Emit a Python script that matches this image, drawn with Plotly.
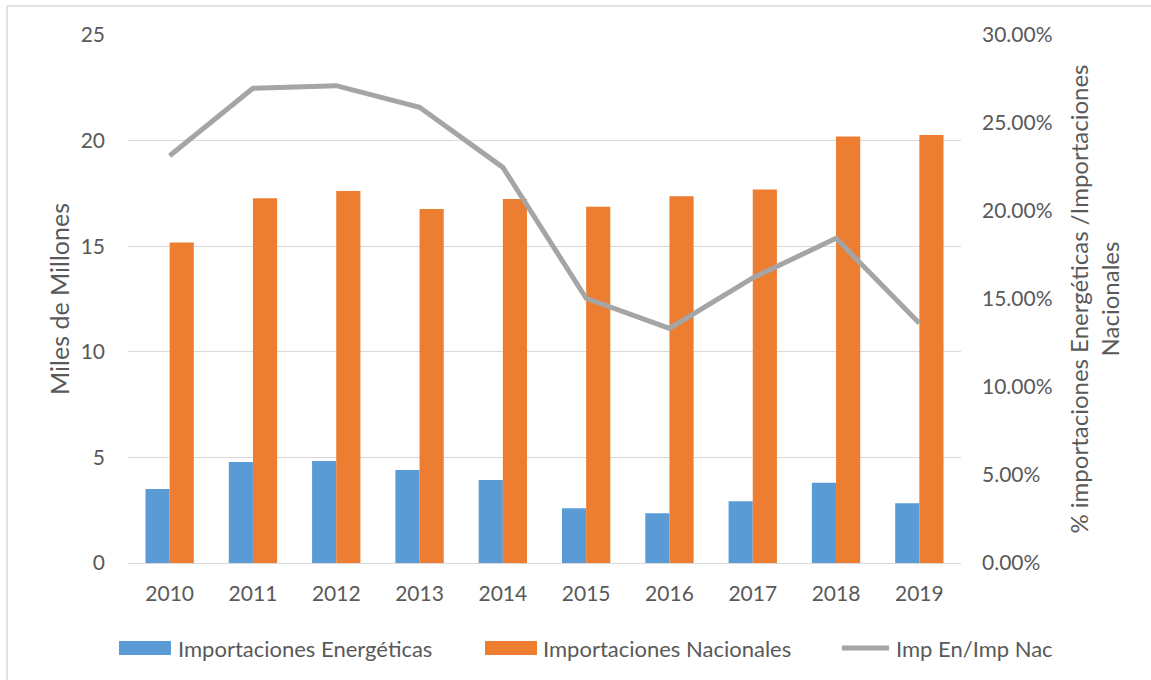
import plotly.graph_objects as go

years = ["2010", "2011", "2012", "2013", "2014", "2015", "2016", "2017", "2018", "2019"]
imp_energeticas = [3.50, 4.78, 4.83, 4.40, 3.93, 2.59, 2.35, 2.92, 3.80, 2.83]
imp_nacionales = [15.17, 17.27, 17.61, 16.76, 17.23, 16.87, 17.36, 17.69, 20.19, 20.27]
ratio = [0.2314, 0.2697, 0.2712, 0.2589, 0.2248, 0.1504, 0.1333, 0.1620, 0.1845, 0.1362]

names = ["Importaciones Energéticas", "Importaciones Nacionales", "Imp En/Imp Nac"]
BLUE = "#5B9BD5"
ORANGE = "#ED7D31"
GREY = "#A5A5A5"
TXT = "#595959"
FONT = "Lato"

W, H = 1151, 680
L, R, T, B = 128, 961, 35, 563  # plot area in pixels


def px(x):
    return (x - L) / (R - L)


def py(y):
    return (B - y) / (B - T)


fig = go.Figure()
fig.add_trace(go.Bar(x=years, y=imp_energeticas, name=names[0],
                     marker=dict(color=BLUE, line=dict(width=0)), showlegend=False))
fig.add_trace(go.Bar(x=years, y=imp_nacionales, name=names[1],
                     marker=dict(color=ORANGE, line=dict(width=0)), showlegend=False))
fig.add_trace(go.Scatter(x=years, y=ratio, name=names[2], yaxis="y2", mode="lines",
                         line=dict(color=GREY, width=5), showlegend=False))

shapes = [
    # chart border (left and top edges visible)
    dict(type="line", xref="paper", yref="paper", x0=px(7), x1=px(7), y0=py(6), y1=py(700),
         line=dict(color="#D9D9D9", width=1.5)),
    dict(type="line", xref="paper", yref="paper", x0=px(7), x1=px(1170), y0=py(6), y1=py(6),
         line=dict(color="#D9D9D9", width=1.5)),
    # custom legend swatches
    dict(type="rect", xref="paper", yref="paper", x0=px(119), x1=px(171), y0=py(655), y1=py(641),
         fillcolor=BLUE, line=dict(width=0)),
    dict(type="rect", xref="paper", yref="paper", x0=px(485), x1=px(537), y0=py(655), y1=py(641),
         fillcolor=ORANGE, line=dict(width=0)),
    dict(type="line", xref="paper", yref="paper", x0=px(842), x1=px(889), y0=py(648), y1=py(648),
         line=dict(color=GREY, width=5)),
]

legend_font = dict(family=FONT, size=22, color=TXT)
annotations = [
    dict(text=names[0], x=px(176), y=py(648), xref="paper", yref="paper", xanchor="left",
         yanchor="middle", showarrow=False, font=legend_font),
    dict(text=names[1], x=px(541), y=py(648), xref="paper", yref="paper", xanchor="left",
         yanchor="middle", showarrow=False, font=legend_font),
    dict(text=names[2], x=px(894), y=py(648), xref="paper", yref="paper", xanchor="left",
         yanchor="middle", showarrow=False, font=legend_font),
]

tick_font = dict(family=FONT, size=21, color=TXT)
fig.update_layout(
    width=W, height=H,
    margin=dict(l=L, r=W - R, t=T, b=H - B, autoexpand=False),
    paper_bgcolor="white", plot_bgcolor="white",
    barmode="group", bargap=0.42, bargroupgap=0,
    font=dict(family=FONT, size=21, color=TXT),
    showlegend=False,
    xaxis=dict(type="category", showgrid=False, showline=False, ticks="",
               ticklabelstandoff=16, tickfont=tick_font),
    yaxis=dict(range=[0, 25], dtick=5, showgrid=True, gridcolor="#D9D9D9", gridwidth=1.3,
               zeroline=True, zerolinecolor="#D9D9D9", zerolinewidth=1.3, showline=False,
               ticks="", ticklabelstandoff=22, tickfont=tick_font,
               title=dict(text="Miles de Millones", standoff=3,
                          font=dict(family=FONT, size=25, color=TXT))),
    yaxis2=dict(range=[0, 0.30], dtick=0.05, tickformat=".2%", overlaying="y", side="right",
                showgrid=False, zeroline=False, showline=False, ticks="",
                ticklabelstandoff=20, tickfont=tick_font,
                title=dict(text="% importaciones Energéticas /Importaciones<br>Nacionales",
                           standoff=19, font=dict(family=FONT, size=24, color=TXT))),
    shapes=shapes,
    annotations=annotations,
)

fig.write_html("out.html", config={"displayModeBar": False},
               post_script="document.body.style.margin='0px';")
